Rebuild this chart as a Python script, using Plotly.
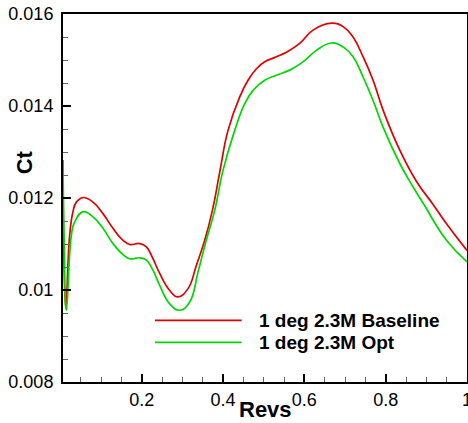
import plotly.graph_objects as go

# ---- data ----
revs_base = [0.0065, 0.0130, 0.0229, 0.0310, 0.0394, 0.0556, 0.0802, 0.1048, 0.1294, 0.1540,
             0.1705, 0.1951, 0.2116, 0.2278, 0.2443, 0.2689, 0.2893, 0.3139, 0.3346, 0.3550,
             0.3739, 0.3919, 0.4123, 0.4411, 0.4615, 0.4822, 0.5026, 0.5314, 0.5560, 0.5887,
             0.6214, 0.6667, 0.6962, 0.7198, 0.7444, 0.7690, 0.7936, 0.8347, 0.8758, 0.9166,
             0.9496, 1.0]
ct_base = [0.01282, 0.00960, 0.01119, 0.01170, 0.01191, 0.01201, 0.01191, 0.01166, 0.01134, 0.01108,
           0.01099, 0.01101, 0.01094, 0.01068, 0.01036, 0.00999, 0.00985, 0.01003, 0.01054, 0.01108,
           0.01173, 0.01256, 0.01347, 0.01420, 0.01456, 0.01481, 0.01496, 0.01507, 0.01517, 0.01536,
           0.01565, 0.01580, 0.01572, 0.01550, 0.01507, 0.01456, 0.01391, 0.01304, 0.01236, 0.01186,
           0.01144, 0.01086]

revs_opt = [0.0065, 0.0093, 0.0148, 0.0271, 0.0352, 0.0556, 0.0802, 0.1048, 0.1294, 0.1540,
            0.1705, 0.1951, 0.2116, 0.2278, 0.2443, 0.2689, 0.2935, 0.3181, 0.3385, 0.3575,
            0.3796, 0.4000, 0.4288, 0.4534, 0.4738, 0.5026, 0.5314, 0.5641, 0.5968, 0.6298,
            0.6667, 0.6962, 0.7198, 0.7444, 0.7690, 0.7936, 0.8347, 0.8674, 0.8920, 0.9496, 1.0]
ct_opt = [0.01282, 0.01108, 0.00956, 0.01119, 0.01148, 0.01170, 0.01159, 0.01134, 0.01101, 0.01077,
          0.01068, 0.01070, 0.01065, 0.01043, 0.01010, 0.00970, 0.00956, 0.00974, 0.01039, 0.01104,
          0.01173, 0.01260, 0.01347, 0.01405, 0.01434, 0.01456, 0.01467, 0.01478, 0.01496, 0.01521,
          0.01537, 0.01528, 0.01507, 0.01463, 0.01412, 0.01354, 0.01275, 0.01224, 0.01189, 0.01108,
          0.01061]

series_names = ["1 deg 2.3M Baseline", "1 deg 2.3M Opt"]
series_colors = ["#e00000", "#00d800"]

x_tickvals = [0.2, 0.4, 0.6, 0.8, 1.0]
x_ticktext = ["0.2", "0.4", "0.6", "0.8", "1"]
y_tickvals = [0.008, 0.010, 0.012, 0.014, 0.016]
y_ticktext = ["0.008", "0.01", "0.012", "0.014", "0.016"]

FONT = "Liberation Sans, Arial, Helvetica, sans-serif"

fig = go.Figure()
for xs, ys, name, col in [(revs_base, ct_base, series_names[0], series_colors[0]),
                          (revs_opt, ct_opt, series_names[1], series_colors[1])]:
    fig.add_trace(go.Scatter(x=xs, y=ys, mode="lines", name=name,
                             line=dict(color=col, width=1.7, shape="spline", smoothing=1.3),
                             showlegend=False))

axis_common = dict(showgrid=False, zeroline=False, showline=True, linecolor="black", linewidth=2,
                   mirror=True, ticks="inside", ticklen=8, tickwidth=2, tickcolor="black",
                   ticklabeloverflow="allow",
                   tickfont=dict(family=FONT, size=18, color="black"))

fig.update_xaxes(range=[0.0065, 1.0], tickvals=x_tickvals, ticktext=x_ticktext,
                 minor=dict(tickvals=[0.05, 0.1, 0.15, 0.25, 0.3, 0.35, 0.45, 0.5, 0.55, 0.65, 0.7,
                                      0.75, 0.85, 0.9, 0.95],
                            ticks="inside", ticklen=5, tickwidth=1, tickcolor="#666"),
                 **axis_common)
fig.update_yaxes(range=[0.008, 0.016], tickvals=y_tickvals, ticktext=y_ticktext,
                 ticklabelstandoff=4,
                 minor=dict(tickvals=[0.0085, 0.009, 0.0095, 0.0105, 0.011, 0.0115, 0.0125, 0.013,
                                      0.0135, 0.0145, 0.015, 0.0155],
                            ticks="inside", ticklen=5, tickwidth=1, tickcolor="#666"),
                 **axis_common)

# custom legend (long line samples as in the original)
legend_y = [0.1677, 0.1079]
for i in range(2):
    fig.add_shape(type="line", xref="paper", yref="paper", x0=0.2277, x1=0.4423,
                  y0=legend_y[i], y1=legend_y[i], line=dict(color=series_colors[i], width=1.7))
    fig.add_annotation(xref="paper", yref="paper", x=0.4795, y=legend_y[i], text=series_names[i],
                       showarrow=False, xanchor="left", yanchor="middle",
                       font=dict(family=FONT, size=19, color="black", weight="bold"))

# axis titles
fig.add_annotation(xref="paper", yref="paper", x=0.5, y=-0.074, text="Revs", showarrow=False,
                   xanchor="center", yanchor="middle",
                   font=dict(family=FONT, size=22, color="black", weight="bold"))
fig.add_annotation(xref="paper", yref="paper", x=-0.0965, y=0.597, text="Ct", showarrow=False,
                   textangle=-90, xanchor="center", yanchor="middle",
                   font=dict(family=FONT, size=22, color="black", weight="bold"))

fig.update_layout(width=468, height=423, margin=dict(l=63, r=1, t=14, b=41, autoexpand=False),
                  paper_bgcolor="white", plot_bgcolor="white")

fig.write_html("out.html")
